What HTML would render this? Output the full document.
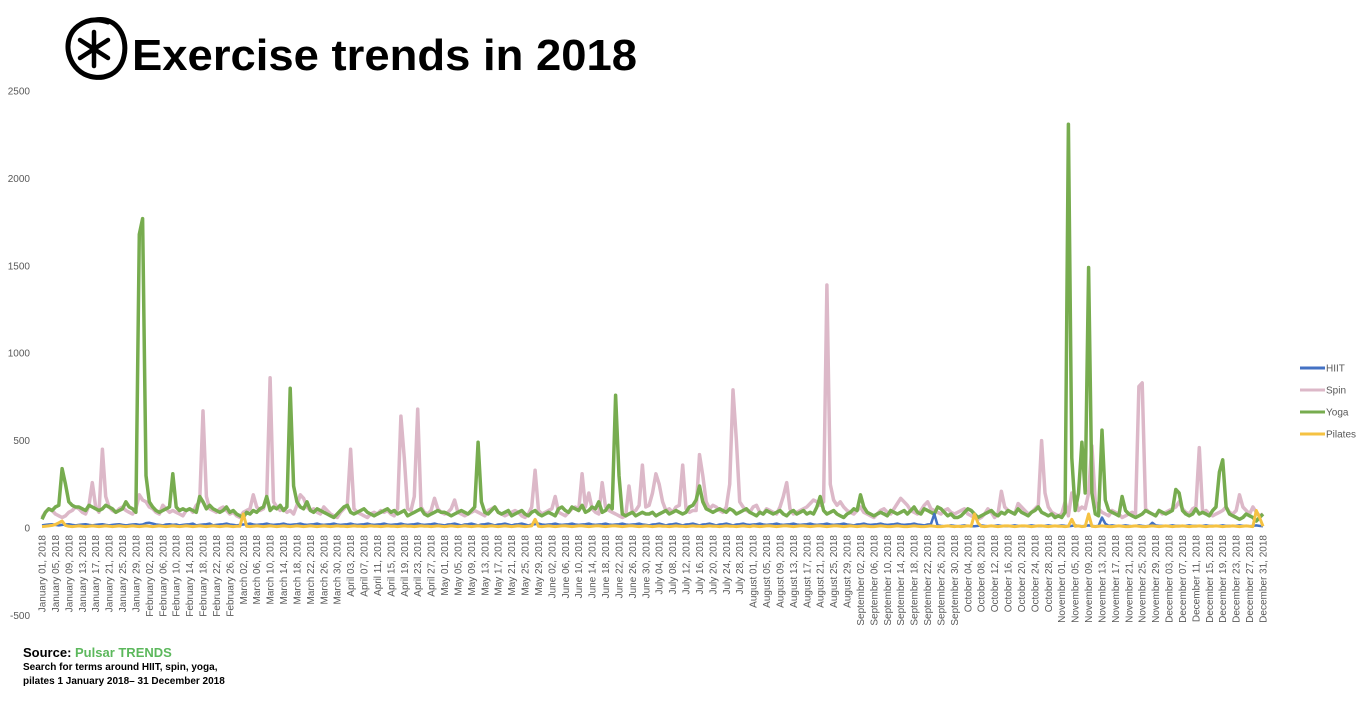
<!DOCTYPE html>
<html><head><meta charset="utf-8"><style>
html,body{margin:0;padding:0;background:#fff;}
svg{display:block;font-family:"Liberation Sans",sans-serif;}
</style></head><body>
<svg id="chart" width="1366" height="715" viewBox="0 0 1366 715">
<g>
<path d="M95,20 C118,16 128,38 124,56 C120,76 100,82 84,74 C66,64 62,38 78,26 C86,20 96,18 108,22" fill="none" stroke="#000" stroke-width="5" stroke-linecap="round"/>
<g stroke="#000" stroke-width="4.5" stroke-linecap="round">
<line x1="94" y1="32" x2="94" y2="66"/><line x1="80" y1="40" x2="108" y2="58"/><line x1="80" y1="58" x2="108" y2="40"/>
</g></g>
<text x="132" y="70" font-size="44" font-weight="bold" textLength="505" lengthAdjust="spacingAndGlyphs">Exercise trends in 2018</text>
<g id="yaxis"></g>
<g id="xaxis"></g>
<g id="series"></g>
<g id="legend"></g>
<text x="23" y="657" font-size="13" font-weight="bold">Source: <tspan fill="#5cb85c">Pulsar TRENDS</tspan></text>
<text x="23" y="670" font-size="10" font-weight="bold">Search for terms around HIIT, spin, yoga,</text>
<text x="23" y="684" font-size="10" font-weight="bold">pilates 1 January 2018– 31 December 2018</text>
</svg>
<script>
const yTicks=[2500,2000,1500,1000,500,0,-500];
const seriesNames=["Spin","Yoga","HIIT","Pilates"];
const spin=[60,90,110,100,80,70,60,70,90,100,120,110,90,80,130,260,120,90,450,180,120,100,90,110,120,100,90,80,110,190,160,
150,120,110,90,80,130,110,90,100,90,80,70,100,110,90,130,150,670,180,110,100,90,110,120,100,80,90,70,
60,90,100,110,190,120,100,110,170,860,150,120,100,110,90,100,80,130,190,170,120,100,110,90,80,120,100,80,70,60,90,
110,130,450,110,90,80,70,60,80,90,80,100,90,100,80,70,110,640,400,110,100,180,680,120,90,80,100,170,110,90,
80,90,110,160,90,80,70,80,90,100,90,80,70,100,110,120,90,80,70,80,90,100,90,70,60,80,120,330,100,80,90,
100,110,180,90,80,70,90,110,120,100,310,120,200,110,90,80,260,120,100,90,80,70,60,70,240,90,100,130,360,120,
130,200,310,250,150,100,110,90,120,130,360,110,90,100,100,420,300,150,110,130,120,100,90,120,250,790,500,150,120,100,90,
120,130,90,80,110,100,90,80,120,180,260,110,80,90,100,110,120,140,160,150,130,150,1390,250,160,130,150,120,100,90,80,
100,120,90,80,70,60,80,100,110,90,80,110,140,170,150,130,100,90,80,100,130,150,110,100,90,80,100,110,90,80,
90,100,110,80,70,60,50,60,80,110,90,60,80,210,120,100,90,80,140,120,100,80,90,110,130,500,200,120,90,80,70,
80,150,70,200,180,100,120,110,200,470,150,110,90,80,70,100,90,80,60,70,80,90,80,810,830,110,90,80,70,100,
80,90,100,110,120,150,110,90,80,110,120,460,90,100,80,70,80,90,100,120,90,80,100,190,120,100,80,120,90,70,80];
const yoga=[50,90,110,100,120,130,340,250,150,130,120,120,110,100,130,120,110,100,110,130,120,110,90,100,110,150,120,110,90,1680,1770,
300,150,120,100,90,100,110,120,310,120,100,110,100,110,100,90,180,150,110,130,110,100,90,100,120,90,100,80,
70,60,90,80,100,90,110,120,180,100,120,110,130,100,120,800,240,150,120,110,150,100,90,110,100,90,80,70,60,80,100,
120,130,90,80,90,100,110,90,80,70,80,90,100,110,90,100,80,90,100,70,80,90,100,110,80,70,80,90,100,90,
90,80,70,80,90,100,90,80,100,120,490,150,90,80,100,120,90,80,90,100,70,80,90,100,80,70,90,100,80,70,80,
90,80,70,110,120,100,90,120,110,100,130,90,100,120,110,150,90,100,130,110,760,300,80,70,80,90,70,80,90,80,
80,90,70,80,90,100,80,90,100,90,80,90,120,130,160,240,150,110,100,90,100,110,100,90,110,100,80,90,100,110,90,
80,70,90,80,100,90,80,90,100,80,70,90,100,80,90,100,80,90,80,120,180,100,80,90,100,80,70,60,80,90,110,
100,190,120,90,80,70,80,90,80,70,100,90,80,90,100,80,100,120,90,80,110,100,90,80,120,110,90,70,80,60,
60,70,90,110,100,80,60,70,80,90,100,80,70,90,80,100,90,80,110,90,80,70,90,100,120,90,80,70,80,60,70,
60,90,2310,400,100,200,490,200,1490,200,80,70,560,160,100,90,80,70,180,100,80,70,60,70,80,100,90,80,70,100,
90,80,90,100,220,200,100,80,70,80,110,80,90,80,70,100,120,320,390,120,80,70,60,50,60,80,70,60,40,60,80];
const hiit=[
15,18,20,22,18, 15,18,20,22,18, 15,18,20,22,18, 15,18,20,22,18, 15,18,20,22,18, 15,18,20,22,18, 20,
28,30,25,20,18, 15,20,22,18,20, 15,18,20,22,25, 15,18,20,22,25, 15,18,20,22,25, 20,18,15,
18,20,22,25,20, 18,20,22,25,20, 18,20,22,25,20, 18,20,22,25,20, 18,20,22,25,20, 18,20,22,25,20, 18,
20,22,25,20,18, 20,22,25,20,18, 20,22,25,20,18, 20,22,25,20,18, 20,22,25,20,18, 20,22,25,20,18,
15,20,22,25,20, 15,20,22,25,20, 15,20,22,25,20, 15,20,22,25,20, 15,20,22,25,20, 15,20,22,25,20, 18,
20,22,25,20,18, 20,22,25,20,18, 20,22,25,20,18, 20,22,25,20,18, 20,22,25,20,18, 20,22,25,20,18,
15,20,22,25,20, 15,20,22,25,20, 15,20,22,25,20, 15,20,22,25,20, 15,20,22,25,20, 15,20,22,25,20, 18,
20,22,25,20,18, 20,22,25,20,18, 20,22,25,20,18, 20,22,25,20,18, 20,22,25,20,18, 20,22,25,20,18, 15,
20,22,25,20,18, 20,22,25,20,18, 20,22,25,20,18, 20,22,25,20,18, 15,20,22,80,15, 12,10,12,15,12,
10,12,15,12,10, 10,12,15,12,10, 10,12,15,12,10, 10,12,15,12,10, 10,12,15,12,10, 10,12,15,12,10, 12,
15,12,10,12,15, 12,10,12,15,12, 10,12,60,25,12, 15,12,10,12,15, 12,10,12,15,12, 10,12,30,15,12,
12,10,12,15,12, 12,10,12,15,12, 12,10,12,15,12, 12,10,12,15,12, 12,10,12,15,12, 12,10,12,15,12, 10];
const pilates=[
8,10,12,15,20, 30,40,15,10,8, 10,12,10,8,10, 12,10,8,10,12, 10,8,10,12,10, 8,10,12,10,8, 10,
12,10,8,10,12, 10,8,10,12,10, 8,10,12,10,8, 10,12,10,8,10, 12,10,8,10,12, 10,8,10,
10,80,10,8,10, 12,10,8,10,12, 10,8,10,12,10, 8,10,12,10,8, 10,12,10,8,10, 12,10,8,10,12, 10,
10,8,10,12,10, 10,8,10,12,10, 10,8,10,12,10, 10,8,10,12,10, 10,8,10,12,10, 10,8,10,12,10,
8,10,12,10,8, 10,12,10,8,10, 12,10,8,10,12, 10,8,10,12,10, 8,10,12,10,8, 10,12,50,10,8, 10,
12,10,8,10,12, 12,10,8,10,12, 12,10,8,10,12, 12,10,8,10,12, 12,10,8,10,12, 12,10,8,10,12,
10,8,10,12,10, 10,8,10,12,10, 10,8,10,12,10, 10,8,10,12,10, 10,8,10,12,10, 10,8,10,12,10, 8,
12,10,8,10,12, 12,10,8,10,12, 12,10,8,10,12, 12,10,8,10,12, 12,10,8,10,12, 12,10,8,10,12, 10,
8,10,12,10,8, 8,10,12,10,8, 8,10,12,10,8, 8,10,12,10,8, 8,10,12,10,8, 8,10,12,10,8,
10,8,10,12,10, 80,30,10,8,10, 12,10,8,10,12, 12,10,8,10,12, 12,10,8,10,12, 12,10,8,10,12, 10,
10,8,10,50,10, 12,8,10,80,10, 8,10,12,10,8, 8,10,12,10,8, 8,10,12,10,8, 8,10,12,10,8,
10,12,10,8,10, 10,12,10,8,10, 10,12,10,8,10, 10,12,10,8,10, 10,12,10,8,10, 12,10,8,100,60, 10];
const monthNames=["January","February","March","April","May","June","July","August","September","October","November","December"];
const NS="http://www.w3.org/2000/svg";
const X0=42,X1=1263,Y0=528,YK=87.4/500;
const xs=d=>X0+(X1-X0)*d/364;
const ys=v=>Y0-v*YK;
function mk(tag,attrs,parent){const e=document.createElementNS(NS,tag);for(const k in attrs)e.setAttribute(k,attrs[k]);parent.appendChild(e);return e;}
const yg=document.getElementById('yaxis');
yTicks.forEach(t=>{const e=mk('text',{x:30,y:ys(t)+3.5,'text-anchor':'end','font-size':10,fill:'#595959'},yg);


e.textContent=String(t);});
const xg=document.getElementById('xaxis');
for(let d=0;d<365;d+=4){const dt=new Date(Date.UTC(2018,0,1+d));
const lbl=monthNames[dt.getUTCMonth()]+" "+String(dt.getUTCDate()).padStart(2,'0')+", 2018";
const x=xs(d)+3.5;
const e=mk('text',{x:x,y:535,transform:`rotate(-90 ${x} 535)`,'text-anchor':'end','font-size':10,fill:'#595959'},xg);


e.textContent=lbl;}
const sg=document.getElementById('series');
const styles={Spin:['#dcb8c8',3.5],Yoga:['#77ac4f',3.5],HIIT:['#4472c4',2.5],Pilates:['#f5c242',3]};
const dataMap={Spin:spin,Yoga:yoga,HIIT:hiit,Pilates:pilates};
seriesNames.forEach(n=>{const arr=dataMap[n];
const pts=arr.map((v,i)=>xs(i).toFixed(1)+","+ys(v).toFixed(1)).join(" ");
const p=mk('polyline',{points:pts,fill:'none',stroke:styles[n][0],'stroke-width':styles[n][1],'stroke-linejoin':'round'},sg);

});
const lg=document.getElementById('legend');
const legendOrder=["HIIT","Spin","Yoga","Pilates"];
legendOrder.forEach((n,i)=>{const y=368+i*22;
const l=mk('line',{x1:1300,y1:y,x2:1325,y2:y,stroke:styles[n][0],'stroke-width':3},lg);


const t=mk('text',{x:1326,y:y+3.5,'font-size':10,fill:'#595959'},lg);


t.textContent=n;});
</script>
</body></html>
